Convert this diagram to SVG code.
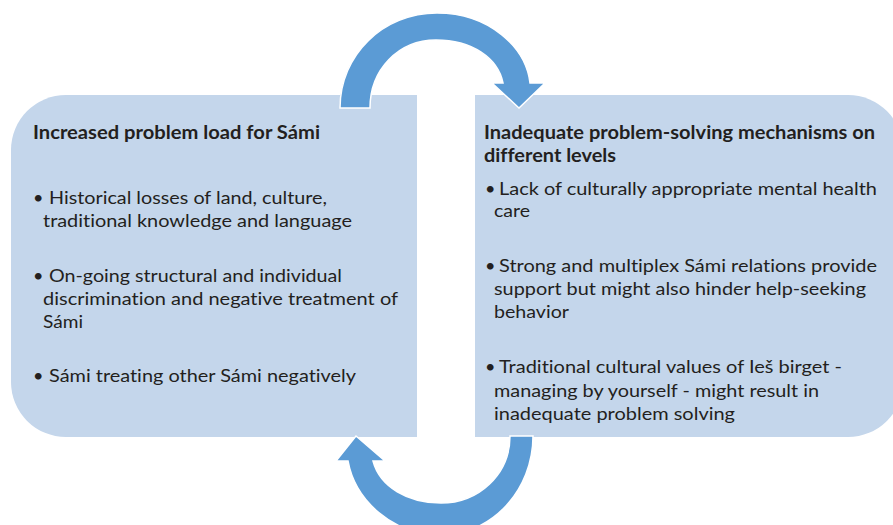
<svg xmlns="http://www.w3.org/2000/svg" width="893" height="525" viewBox="0 0 893 525">
<style>
.box{fill:#C4D6EB;}
.arrow{fill:#5B9BD5;stroke:#FFFFFF;stroke-width:1.5;stroke-linejoin:miter;}
text{font-family:Lato,"Open Sans","Liberation Sans",sans-serif;font-size:18px;fill:#231F20;font-variant-ligatures:none;}
.t{font-weight:bold;}
</style>
<rect width="893" height="525" fill="#FFFFFF"/>
<g id="node-left">
<path class="box" d="M66,95 H417 V437 H66 A55 55 0 0 1 11,382 V150 A55 55 0 0 1 66,95 Z"/>
<text class="t" x="33" y="139" textLength="287" lengthAdjust="spacingAndGlyphs">Increased problem load for Sámi</text>
<text x="33" y="204">•</text>
<text x="49" y="204" textLength="278" lengthAdjust="spacingAndGlyphs">Historical losses of land, culture,</text>
<text x="43" y="227" textLength="309" lengthAdjust="spacingAndGlyphs">traditional knowledge and language</text>
<text x="33" y="282">•</text>
<text x="49" y="282" textLength="293" lengthAdjust="spacingAndGlyphs">On-going structural and individual</text>
<text x="43" y="305" textLength="355" lengthAdjust="spacingAndGlyphs">discrimination and negative treatment of</text>
<text x="43" y="328" textLength="40" lengthAdjust="spacingAndGlyphs">Sámi</text>
<text x="33" y="382">•</text>
<text x="49" y="382" textLength="307" lengthAdjust="spacingAndGlyphs">Sámi treating other Sámi negatively</text>
</g>
<g id="node-right">
<path class="box" d="M475,95 H848 A55 55 0 0 1 903,150 V382 A55 55 0 0 1 848,437 H475 Z"/>
<text class="t" x="484" y="139" textLength="391" lengthAdjust="spacingAndGlyphs">Inadequate problem-solving mechanisms on</text>
<text class="t" x="484" y="162" textLength="132" lengthAdjust="spacingAndGlyphs">different levels</text>
<text x="485" y="195">•</text>
<text x="499" y="195" textLength="378" lengthAdjust="spacingAndGlyphs">Lack of culturally appropriate mental health</text>
<text x="494" y="217" textLength="36" lengthAdjust="spacingAndGlyphs">care</text>
<text x="485" y="272">•</text>
<text x="499" y="272" textLength="378" lengthAdjust="spacingAndGlyphs">Strong and multiplex Sámi relations provide</text>
<text x="494" y="295" textLength="372" lengthAdjust="spacingAndGlyphs">support but might also hinder help-seeking</text>
<text x="494" y="318" textLength="75" lengthAdjust="spacingAndGlyphs">behavior</text>
<text x="485" y="373">•</text>
<text x="499" y="373" textLength="343" lengthAdjust="spacingAndGlyphs">Traditional cultural values of Ieš birget -</text>
<text x="494" y="397" textLength="325" lengthAdjust="spacingAndGlyphs">managing by yourself - might result in</text>
<text x="494" y="420" textLength="241" lengthAdjust="spacingAndGlyphs">inadequate problem solving</text>
</g>
<g id="connectors">
<path class="arrow" d="M340,108 C340,55 383,13 437,13 C490,13 526,48 530,83 L545,83 L519,108 L492,83 L503,83 C498,58 472,40 436,40 C398,40 370,70 370,108 Z"/>
<path class="arrow" d="M533,436 C533,490 492,535 441,535 C392,535 355,500 348,461 L336,461 L356,436 L385,461 L373,461 C380,487 408,503 441,503 C478,503 510,475 510,436 Z"/>
</g>
</svg>
